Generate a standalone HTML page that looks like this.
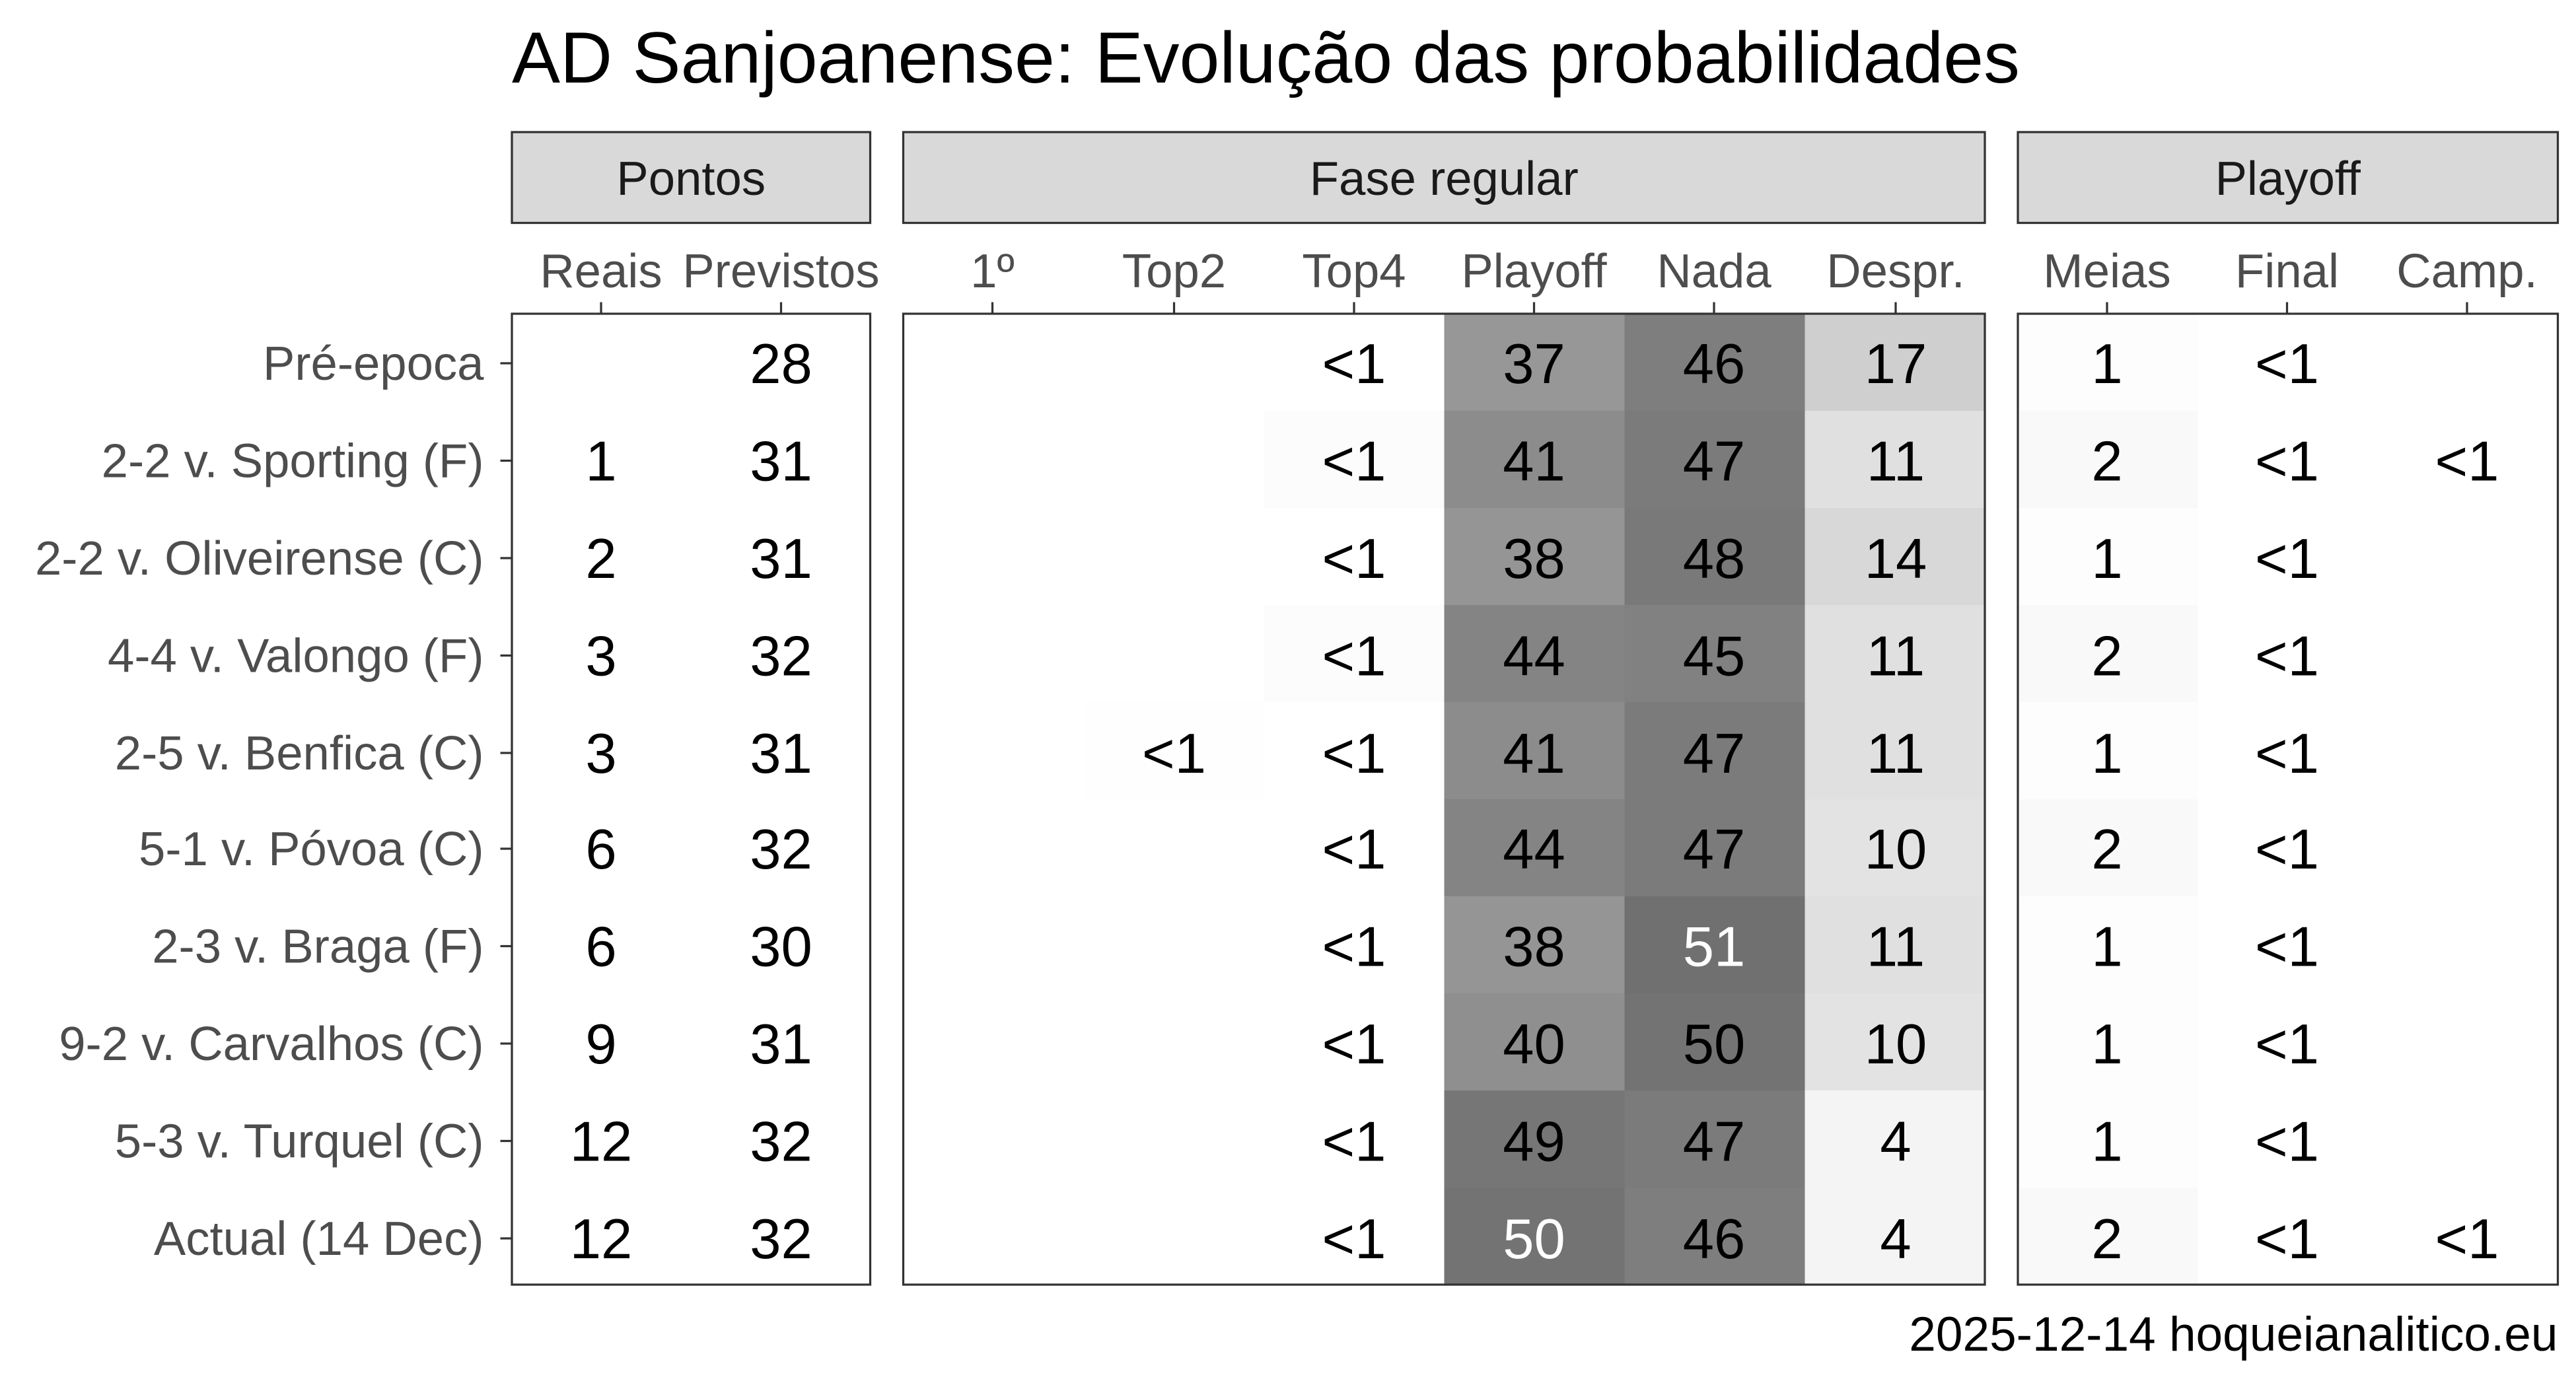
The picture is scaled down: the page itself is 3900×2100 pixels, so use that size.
<!DOCTYPE html>
<html><head><meta charset="utf-8"><style>
html,body{margin:0;padding:0;background:#fff}
svg{display:block}
text{font-family:"Liberation Sans",sans-serif}
.v{font-size:34px;text-anchor:middle;fill:#000}
.w{font-size:34px;text-anchor:middle;fill:#fff}
.r{font-size:29px;text-anchor:end;fill:#4d4d4d}
.c{font-size:29px;text-anchor:middle;fill:#4d4d4d}
.s{font-size:29px;text-anchor:middle;fill:#1a1a1a}
</style></head><body>
<svg width="3900" height="2100" viewBox="0 0 1560 840" xmlns="http://www.w3.org/2000/svg">
<rect width="1560" height="840" fill="#fff"/>
<text x="310" y="50" font-size="43.8" fill="#000">AD Sanjoanense: Evolução das probabilidades</text>
<rect x="310" y="80" width="217" height="55" fill="#d9d9d9" stroke="#333" stroke-width="1.3"/>
<rect x="547" y="80" width="655" height="55" fill="#d9d9d9" stroke="#333" stroke-width="1.3"/>
<rect x="1222" y="80" width="327" height="55" fill="#d9d9d9" stroke="#333" stroke-width="1.3"/>
<text class="s" x="418.5" y="118">Pontos</text>
<text class="s" x="874.5" y="118">Fase regular</text>
<text class="s" x="1385.5" y="118">Playoff</text>
<text class="c" x="364" y="174">Reais</text><text class="c" x="473" y="174">Previstos</text>
<text class="c" x="601" y="174">1º</text><text class="c" x="711" y="174">Top2</text><text class="c" x="820" y="174">Top4</text>
<text class="c" x="929" y="174">Playoff</text><text class="c" x="1038" y="174">Nada</text><text class="c" x="1148" y="174">Despr.</text>
<text class="c" x="1276" y="174">Meias</text><text class="c" x="1385" y="174">Final</text><text class="c" x="1494" y="174">Camp.</text>
<g stroke="#333" stroke-width="1.3">
<line x1="364" y1="183" x2="364" y2="190"/><line x1="473" y1="183" x2="473" y2="190"/>
<line x1="601" y1="183" x2="601" y2="190"/><line x1="711" y1="183" x2="711" y2="190"/><line x1="820" y1="183" x2="820" y2="190"/>
<line x1="929" y1="183" x2="929" y2="190"/><line x1="1038" y1="183" x2="1038" y2="190"/><line x1="1148" y1="183" x2="1148" y2="190"/>
<line x1="1276" y1="183" x2="1276" y2="190"/><line x1="1385" y1="183" x2="1385" y2="190"/><line x1="1494" y1="183" x2="1494" y2="190"/>
<line x1="303" y1="220" x2="310" y2="220"/><line x1="303" y1="279" x2="310" y2="279"/><line x1="303" y1="338" x2="310" y2="338"/>
<line x1="303" y1="397" x2="310" y2="397"/><line x1="303" y1="456" x2="310" y2="456"/><line x1="303" y1="514" x2="310" y2="514"/>
<line x1="303" y1="573" x2="310" y2="573"/><line x1="303" y1="632" x2="310" y2="632"/><line x1="303" y1="691" x2="310" y2="691"/>
<line x1="303" y1="750" x2="310" y2="750"/>
</g>
<text class="r" x="293" y="230">Pré-epoca</text>
<text class="r" x="293" y="289">2-2 v. Sporting (F)</text>
<text class="r" x="293" y="348">2-2 v. Oliveirense (C)</text>
<text class="r" x="293" y="407">4-4 v. Valongo (F)</text>
<text class="r" x="293" y="466">2-5 v. Benfica (C)</text>
<text class="r" x="293" y="524">5-1 v. Póvoa (C)</text>
<text class="r" x="293" y="583">2-3 v. Braga (F)</text>
<text class="r" x="293" y="642">9-2 v. Carvalhos (C)</text>
<text class="r" x="293" y="701">5-3 v. Turquel (C)</text>
<text class="r" x="293" y="760">Actual (14 Dec)</text>
<g>
<rect x="656.2" y="425.2" width="109.2" height="58.8" fill="#fefefe"/>
<rect x="765.4" y="248.8" width="109.2" height="58.8" fill="#fcfcfc"/>
<rect x="765.4" y="366.4" width="109.2" height="58.8" fill="#fcfcfc"/>
<rect x="874.6" y="190" width="109.2" height="58.8" fill="#979797"/>
<rect x="874.6" y="248.8" width="109.2" height="58.8" fill="#8c8c8c"/>
<rect x="874.6" y="307.6" width="109.2" height="58.8" fill="#959595"/>
<rect x="874.6" y="366.4" width="109.2" height="58.8" fill="#848484"/>
<rect x="874.6" y="425.2" width="109.2" height="58.8" fill="#8c8c8c"/>
<rect x="874.6" y="484" width="109.2" height="58.8" fill="#848484"/>
<rect x="874.6" y="542.8" width="109.2" height="58.8" fill="#959595"/>
<rect x="874.6" y="601.6" width="109.2" height="58.8" fill="#8f8f8f"/>
<rect x="874.6" y="660.4" width="109.2" height="58.8" fill="#767676"/>
<rect x="874.6" y="719.2" width="109.2" height="58.8" fill="#737373"/>
<rect x="983.8" y="190" width="109.2" height="58.8" fill="#7e7e7e"/>
<rect x="983.8" y="248.8" width="109.2" height="58.8" fill="#7b7b7b"/>
<rect x="983.8" y="307.6" width="109.2" height="58.8" fill="#797979"/>
<rect x="983.8" y="366.4" width="109.2" height="58.8" fill="#818181"/>
<rect x="983.8" y="425.2" width="109.2" height="58.8" fill="#7b7b7b"/>
<rect x="983.8" y="484" width="109.2" height="58.8" fill="#7b7b7b"/>
<rect x="983.8" y="542.8" width="109.2" height="58.8" fill="#707070"/>
<rect x="983.8" y="601.6" width="109.2" height="58.8" fill="#737373"/>
<rect x="983.8" y="660.4" width="109.2" height="58.8" fill="#7b7b7b"/>
<rect x="983.8" y="719.2" width="109.2" height="58.8" fill="#7e7e7e"/>
<rect x="1093" y="190" width="109.2" height="58.8" fill="#cfcfcf"/>
<rect x="1093" y="248.8" width="109.2" height="58.8" fill="#e0e0e0"/>
<rect x="1093" y="307.6" width="109.2" height="58.8" fill="#d8d8d8"/>
<rect x="1093" y="366.4" width="109.2" height="58.8" fill="#e0e0e0"/>
<rect x="1093" y="425.2" width="109.2" height="58.8" fill="#e0e0e0"/>
<rect x="1093" y="484" width="109.2" height="58.8" fill="#e3e3e3"/>
<rect x="1093" y="542.8" width="109.2" height="58.8" fill="#e0e0e0"/>
<rect x="1093" y="601.6" width="109.2" height="58.8" fill="#e3e3e3"/>
<rect x="1093" y="660.4" width="109.2" height="58.8" fill="#f4f4f4"/>
<rect x="1093" y="719.2" width="109.2" height="58.8" fill="#f4f4f4"/>
<rect x="1222" y="190" width="109" height="58.8" fill="#fdfdfd"/>
<rect x="1222" y="248.8" width="109" height="58.8" fill="#f9f9f9"/>
<rect x="1222" y="307.6" width="109" height="58.8" fill="#fdfdfd"/>
<rect x="1222" y="366.4" width="109" height="58.8" fill="#f9f9f9"/>
<rect x="1222" y="425.2" width="109" height="58.8" fill="#fdfdfd"/>
<rect x="1222" y="484" width="109" height="58.8" fill="#f9f9f9"/>
<rect x="1222" y="542.8" width="109" height="58.8" fill="#fdfdfd"/>
<rect x="1222" y="601.6" width="109" height="58.8" fill="#fdfdfd"/>
<rect x="1222" y="660.4" width="109" height="58.8" fill="#fdfdfd"/>
<rect x="1222" y="719.2" width="109" height="58.8" fill="#f9f9f9"/>
</g>
<g fill="none" stroke="#333" stroke-width="1.3">
<rect x="310" y="190" width="217" height="588"/>
<rect x="547" y="190" width="655" height="588"/>
<rect x="1222" y="190" width="327" height="588"/>
</g>
<text class="v" x="473" y="232">28</text><text class="v" x="820" y="232">&lt;1</text><text class="v" x="929" y="232">37</text><text class="v" x="1038" y="232">46</text><text class="v" x="1148" y="232">17</text><text class="v" x="1276" y="232">1</text><text class="v" x="1385" y="232">&lt;1</text>
<text class="v" x="364" y="291">1</text><text class="v" x="473" y="291">31</text><text class="v" x="820" y="291">&lt;1</text><text class="v" x="929" y="291">41</text><text class="v" x="1038" y="291">47</text><text class="v" x="1148" y="291">11</text><text class="v" x="1276" y="291">2</text><text class="v" x="1385" y="291">&lt;1</text><text class="v" x="1494" y="291">&lt;1</text>
<text class="v" x="364" y="350">2</text><text class="v" x="473" y="350">31</text><text class="v" x="820" y="350">&lt;1</text><text class="v" x="929" y="350">38</text><text class="v" x="1038" y="350">48</text><text class="v" x="1148" y="350">14</text><text class="v" x="1276" y="350">1</text><text class="v" x="1385" y="350">&lt;1</text>
<text class="v" x="364" y="409">3</text><text class="v" x="473" y="409">32</text><text class="v" x="820" y="409">&lt;1</text><text class="v" x="929" y="409">44</text><text class="v" x="1038" y="409">45</text><text class="v" x="1148" y="409">11</text><text class="v" x="1276" y="409">2</text><text class="v" x="1385" y="409">&lt;1</text>
<text class="v" x="364" y="468">3</text><text class="v" x="473" y="468">31</text><text class="v" x="711" y="468">&lt;1</text><text class="v" x="820" y="468">&lt;1</text><text class="v" x="929" y="468">41</text><text class="v" x="1038" y="468">47</text><text class="v" x="1148" y="468">11</text><text class="v" x="1276" y="468">1</text><text class="v" x="1385" y="468">&lt;1</text>
<text class="v" x="364" y="526">6</text><text class="v" x="473" y="526">32</text><text class="v" x="820" y="526">&lt;1</text><text class="v" x="929" y="526">44</text><text class="v" x="1038" y="526">47</text><text class="v" x="1148" y="526">10</text><text class="v" x="1276" y="526">2</text><text class="v" x="1385" y="526">&lt;1</text>
<text class="v" x="364" y="585">6</text><text class="v" x="473" y="585">30</text><text class="v" x="820" y="585">&lt;1</text><text class="v" x="929" y="585">38</text><text class="w" x="1038" y="585">51</text><text class="v" x="1148" y="585">11</text><text class="v" x="1276" y="585">1</text><text class="v" x="1385" y="585">&lt;1</text>
<text class="v" x="364" y="644">9</text><text class="v" x="473" y="644">31</text><text class="v" x="820" y="644">&lt;1</text><text class="v" x="929" y="644">40</text><text class="v" x="1038" y="644">50</text><text class="v" x="1148" y="644">10</text><text class="v" x="1276" y="644">1</text><text class="v" x="1385" y="644">&lt;1</text>
<text class="v" x="364" y="703">12</text><text class="v" x="473" y="703">32</text><text class="v" x="820" y="703">&lt;1</text><text class="v" x="929" y="703">49</text><text class="v" x="1038" y="703">47</text><text class="v" x="1148" y="703">4</text><text class="v" x="1276" y="703">1</text><text class="v" x="1385" y="703">&lt;1</text>
<text class="v" x="364" y="762">12</text><text class="v" x="473" y="762">32</text><text class="v" x="820" y="762">&lt;1</text><text class="w" x="929" y="762">50</text><text class="v" x="1038" y="762">46</text><text class="v" x="1148" y="762">4</text><text class="v" x="1276" y="762">2</text><text class="v" x="1385" y="762">&lt;1</text><text class="v" x="1494" y="762">&lt;1</text>
<text x="1549" y="818" font-size="29.2" text-anchor="end" fill="#000">2025-12-14 hoqueianalitico.eu</text>
</svg>
</body></html>
